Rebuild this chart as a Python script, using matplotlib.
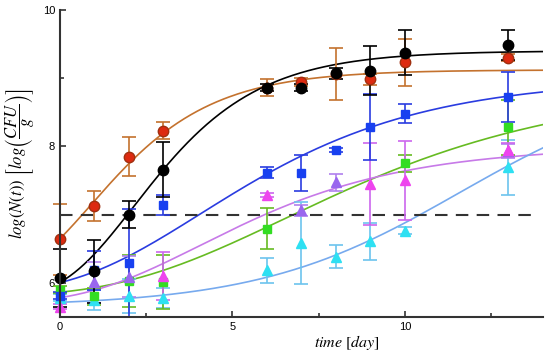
import numpy as np
import matplotlib.pyplot as plt

plt.rcParams['font.family'] = ['Liberation Sans', 'DejaVu Sans']
plt.rcParams['mathtext.fontset'] = 'stix'

# measured points (day, log N, error)
black_t = [0, 1, 2, 3, 6, 7, 8, 9, 10, 13]
black_y = [6.07, 6.17, 7.00, 7.66, 8.86, 8.86, 9.07, 9.11, 9.37, 9.49]
black_e = [0.43, 0.46, 0.20, 0.40, 0.05, 0.05, 0.08, 0.36, 0.33, 0.22]

red_t = [0, 1, 2, 3, 6, 7, 8, 9, 10, 13]
red_y = [6.64, 7.12, 7.85, 8.23, 8.86, 8.94, 9.06, 8.98, 9.23, 9.30]
red_e = [0.52, 0.22, 0.28, 0.12, 0.12, 0.06, 0.38, 0.08, 0.34, 0.05]

blue_t = [0, 1, 2, 3, 6, 7, 8, 9, 10, 13]
blue_y = [5.81, 6.18, 6.29, 7.14, 7.61, 7.61, 7.94, 8.28, 8.48, 8.72]
blue_e = [0.05, 0.28, 0.79, 0.15, 0.08, 0.26, 0.03, 0.48, 0.14, 0.37]

green_t = [0, 1, 2, 3, 6, 10, 13]
green_y = [5.90, 5.80, 6.02, 6.01, 6.79, 7.75, 8.28]
green_e = [0.05, 0.12, 0.38, 0.40, 0.30, 0.13, 0.40]

magenta_t = [0, 3, 6, 9, 10, 13]
magenta_y = [5.65, 6.10, 7.28, 7.45, 7.50, 7.95]
magenta_e = [0.04, 0.35, 0.03, 0.60, 0.58, 0.10]

lavender_t = [1, 2, 7, 8, 13]
lavender_y = [6.01, 6.09, 7.06, 7.47, 7.93]
lavender_e = [0.30, 0.30, 0.08, 0.12, 0.10]

cyan_t = [0, 1, 2, 3, 6, 7, 8, 9, 10, 13]
cyan_y = [5.78, 5.75, 5.81, 5.78, 6.18, 6.58, 6.38, 6.61, 6.76, 7.69]
cyan_e = [0.05, 0.15, 0.25, 0.15, 0.18, 0.60, 0.17, 0.27, 0.05, 0.40]

# fitted growth curves: (L, U, k, tm)
black_fit = (5.8, 9.4, 0.49, 2.15)
red_fit = (6.0, 9.12, 0.50, 0.91)
blue_fit = (5.85, 9.0, 0.273, 4.07)
green_fit = (5.8, 8.9, 0.21, 6.52)
violet_fit = (5.7, 8.0, 0.298, 4.06)
cyan_fit = (5.65, 9.0, 0.342, 11.6)

limit = 7.0


def gompertz(t, p):
    L, U, k, tm = p
    return L + (U - L) * np.exp(-np.exp(-k * (t - tm)))


def logistic(t, p):
    L, U, k, tm = p
    return L + (U - L) / (1 + np.exp(-k * (t - tm)))


fig = plt.figure(figsize=(5.5, 3.54), dpi=100)
ax = fig.add_axes([0.109, 0.105, 0.878, 0.867])

tt = np.linspace(0, 14, 300)
ax.plot(tt, gompertz(tt, red_fit), color='#c4722e', lw=1.2)
ax.plot(tt, gompertz(tt, black_fit), color='black', lw=1.2)
ax.plot(tt, gompertz(tt, blue_fit), color='#2a3ce0', lw=1.2)
ax.plot(tt, gompertz(tt, green_fit), color='#66bb22', lw=1.2)
ax.plot(tt, gompertz(tt, violet_fit), color='#c77ae8', lw=1.2)
ax.plot(tt, logistic(tt, cyan_fit), color='#77aaee', lw=1.2)

ax.axhline(limit, xmin=0, xmax=0.99, color='#333333', lw=1.5, ls=(0, (6, 4)))

eb = dict(ls='none', capsize=5, elinewidth=1.2, capthick=1.2, clip_on=False)
ax.errorbar(cyan_t, cyan_y, yerr=cyan_e, marker='^', ms=7, mfc='#2ee0f2', mec='#2ee0f2', ecolor='#6cc4ee', **eb)
ax.errorbar(green_t, green_y, yerr=green_e, marker='s', ms=5.5, mfc='#33dd22', mec='#33dd22', ecolor='#66bb22', **eb)
ax.errorbar(lavender_t, lavender_y, yerr=lavender_e, marker='^', ms=7, mfc='#9966ee', mec='#9966ee', ecolor='#b080ee', **eb)
ax.errorbar(magenta_t, magenta_y, yerr=magenta_e, marker='^', ms=7, mfc='#ee44ee', mec='#ee44ee', ecolor='#cc66ee', **eb)
ax.errorbar(blue_t, blue_y, yerr=blue_e, marker='s', ms=5.5, mfc='#1840f0', mec='#1840f0', ecolor='#2a3ce0', **eb)
ax.errorbar(red_t, red_y, yerr=red_e, marker='o', ms=7.5, mfc='#dd2a10', mec='#a03010', ecolor='#c4722e', **eb)
ax.errorbar(black_t, black_y, yerr=black_e, marker='o', ms=7.5, mfc='black', mec='black', ecolor='black', **eb)

ax.set_xlim(0, 14)
ax.set_ylim(5.5, 10)
ax.set_xticks([0, 5, 10])
ax.set_xticks([2.5, 7.5, 12.5], minor=True)
ax.set_yticks([6, 8, 10])
ax.set_yticks([7, 9], minor=True)
ax.tick_params(direction='in', length=4, width=1.2, labelsize=8, colors='#333333', labelcolor='black')
ax.tick_params(which='minor', direction='in', length=3, width=1.2, colors='#333333')
for s in ['top', 'right']:
    ax.spines[s].set_visible(False)
for s in ['left', 'bottom']:
    ax.spines[s].set_linewidth(1.5)
    ax.spines[s].set_color('#333333')

ax.set_xlabel(r'$time\ [day]$', fontsize=11.5, x=0.595, labelpad=1)
ax.set_ylabel(r'$log(N(t))\ \left[log\left(\dfrac{CFU}{g}\right)\right]$', fontsize=12, labelpad=4)

plt.savefig('out.png')
